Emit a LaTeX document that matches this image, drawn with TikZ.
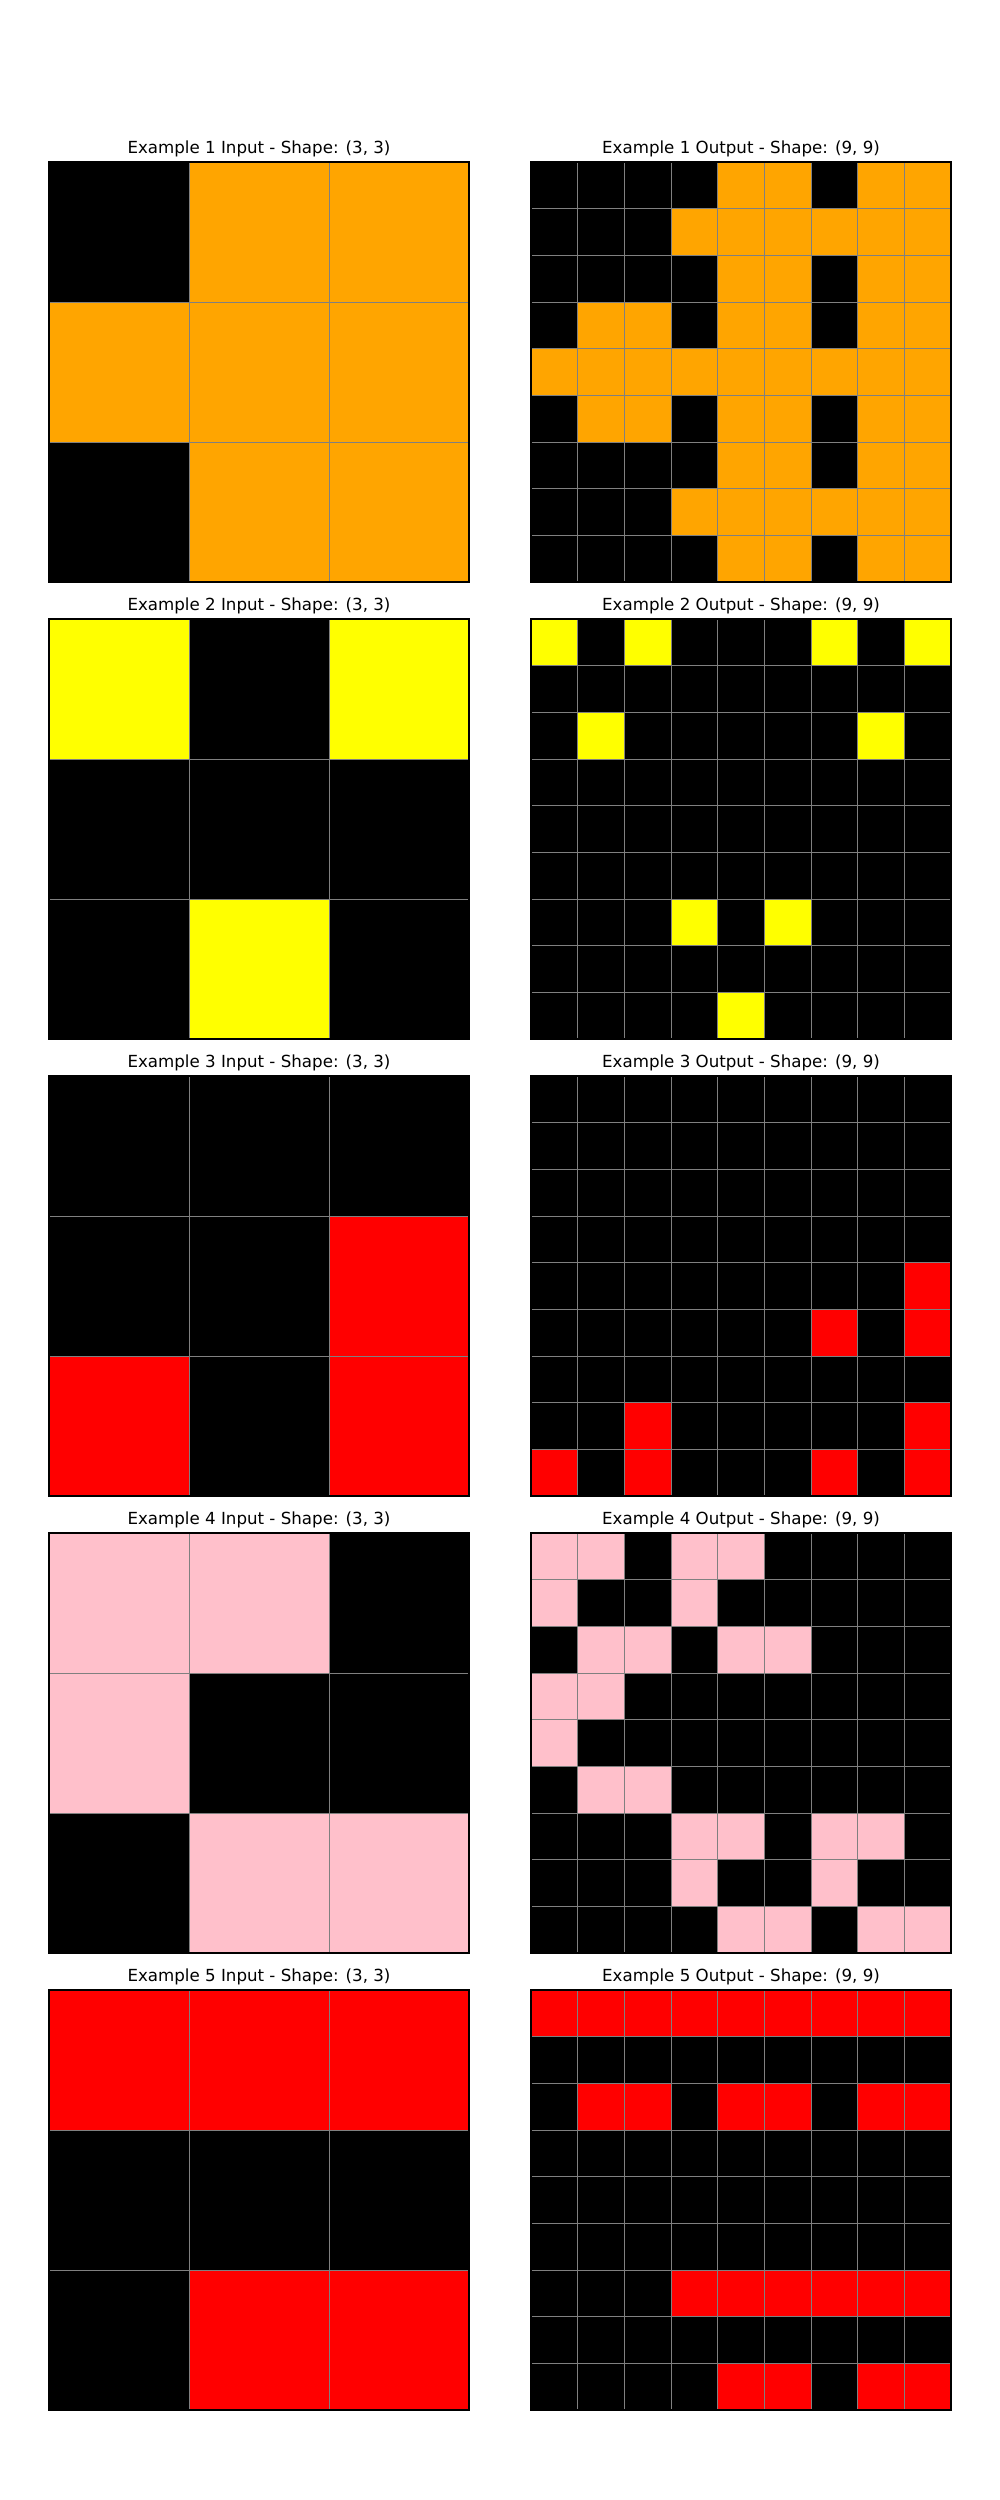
\documentclass[tikz,border=0pt]{standalone}
\usepackage{fontspec}
\setmainfont{DejaVu Sans}
\usepackage{xcolor}
\definecolor{K}{HTML}{000000}
\definecolor{O}{HTML}{FFA500}
\definecolor{Y}{HTML}{FFFF00}
\definecolor{R}{HTML}{FF0000}
\definecolor{P}{HTML}{FFC0CB}
\definecolor{gridgray}{HTML}{808080}

% one panel: x, y of top left corner, cell size, rows of colours
\newcommand{\gridpanel}[4]{%
  \begin{scope}[shift={(#1,#2)}]
    \foreach \row [count=\i from 0] in {#4} {
      \foreach \c [count=\j from 0] in \row
        \filldraw[cell, fill=\c] (\j*#3,\i*#3) rectangle ++(#3,#3);
    }
    \draw[frame] (0,0) rectangle (420,420);
  \end{scope}}

\begin{document}
\begin{tikzpicture}[
  x=0.72pt, y=-0.72pt,
  cell/.style={draw=gridgray, line width=0.72pt},
  frame/.style={draw=black, line width=0.8pt},
  ttl/.style={font=\fontsize{12}{14}\selectfont, anchor=base, inner sep=0pt},
]
\fill[white] (0,0) rectangle (1000,2500);
\useasboundingbox (0,0) rectangle (1000,2500);

% titles
\foreach \n in {1,...,5} {
  \node[ttl] (in\n) at (259,{153.7+457*(\n-1)}) {Example \n\ Input - Shape: (3, 3)};
  \node[ttl] (out\n) at (741,{153.7+457*(\n-1)}) {Example \n\ Output - Shape: (9, 9)};
}

% example 1
\gridpanel{49}{162}{140}{{K,O,O},{O,O,O},{K,O,O}}
\gridpanel{531}{162}{420/9}{
  {K,K,K,K,O,O,K,O,O},{K,K,K,O,O,O,O,O,O},{K,K,K,K,O,O,K,O,O},
  {K,O,O,K,O,O,K,O,O},{O,O,O,O,O,O,O,O,O},{K,O,O,K,O,O,K,O,O},
  {K,K,K,K,O,O,K,O,O},{K,K,K,O,O,O,O,O,O},{K,K,K,K,O,O,K,O,O}}

% example 2
\gridpanel{49}{619}{140}{{Y,K,Y},{K,K,K},{K,Y,K}}
\gridpanel{531}{619}{420/9}{
  {Y,K,Y,K,K,K,Y,K,Y},{K,K,K,K,K,K,K,K,K},{K,Y,K,K,K,K,K,Y,K},
  {K,K,K,K,K,K,K,K,K},{K,K,K,K,K,K,K,K,K},{K,K,K,K,K,K,K,K,K},
  {K,K,K,Y,K,Y,K,K,K},{K,K,K,K,K,K,K,K,K},{K,K,K,K,Y,K,K,K,K}}

% example 3
\gridpanel{49}{1076}{140}{{K,K,K},{K,K,R},{R,K,R}}
\gridpanel{531}{1076}{420/9}{
  {K,K,K,K,K,K,K,K,K},{K,K,K,K,K,K,K,K,K},{K,K,K,K,K,K,K,K,K},
  {K,K,K,K,K,K,K,K,K},{K,K,K,K,K,K,K,K,R},{K,K,K,K,K,K,R,K,R},
  {K,K,K,K,K,K,K,K,K},{K,K,R,K,K,K,K,K,R},{R,K,R,K,K,K,R,K,R}}

% example 4
\gridpanel{49}{1533}{140}{{P,P,K},{P,K,K},{K,P,P}}
\gridpanel{531}{1533}{420/9}{
  {P,P,K,P,P,K,K,K,K},{P,K,K,P,K,K,K,K,K},{K,P,P,K,P,P,K,K,K},
  {P,P,K,K,K,K,K,K,K},{P,K,K,K,K,K,K,K,K},{K,P,P,K,K,K,K,K,K},
  {K,K,K,P,P,K,P,P,K},{K,K,K,P,K,K,P,K,K},{K,K,K,K,P,P,K,P,P}}

% example 5
\gridpanel{49}{1990}{140}{{R,R,R},{K,K,K},{K,R,R}}
\gridpanel{531}{1990}{420/9}{
  {R,R,R,R,R,R,R,R,R},{K,K,K,K,K,K,K,K,K},{K,R,R,K,R,R,K,R,R},
  {K,K,K,K,K,K,K,K,K},{K,K,K,K,K,K,K,K,K},{K,K,K,K,K,K,K,K,K},
  {K,K,K,R,R,R,R,R,R},{K,K,K,K,K,K,K,K,K},{K,K,K,K,R,R,K,R,R}}
\end{tikzpicture}
\end{document}
